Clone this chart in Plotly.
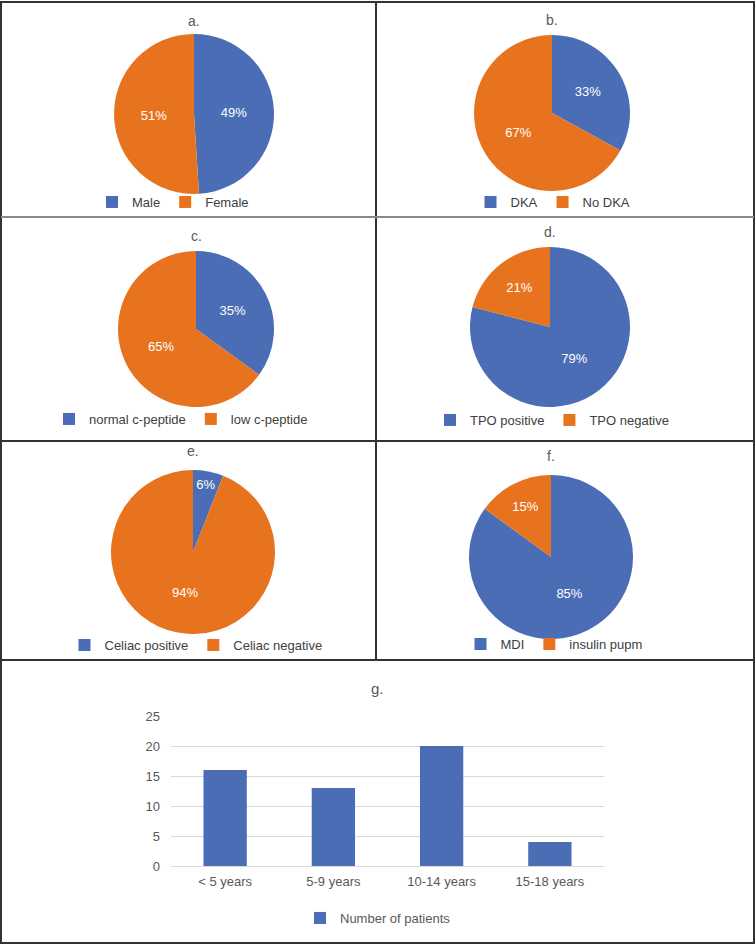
import plotly.graph_objects as go

W, H = 756, 947

# ---------------- data ----------------
a_labels = ["Male", "Female"]
a_values = [49, 51]
b_labels = ["DKA", "No DKA"]
b_values = [33, 67]
c_labels = ["normal c-peptide", "low c-peptide"]
c_values = [35, 65]
d_labels = ["TPO positive", "TPO negative"]
d_values = [79, 21]
e_labels = ["Celiac positive", "Celiac negative"]
e_values = [6, 94]
f_labels = ["MDI", "insulin pupm"]
f_values = [85, 15]

g_categories = ["< 5 years", "5-9 years", "10-14 years", "15-18 years"]
g_values = [16, 13, 20, 4]
g_series = "Number of patients"
g_ticks = [0, 5, 10, 15, 20, 25]

BLUE = "#4A6DB5"
ORANGE = "#E8731F"
FONT = "Liberation Sans, Arial, sans-serif"
NARROW = "Liberation Sans Narrow, Arial Narrow, Liberation Sans, sans-serif"


def px(x):
    return x / W


def py(y):
    return 1 - y / H


fig = go.Figure()

# panels: (labels, values, title, cx, cy, r, title_y, legend_x, legend_y)
panels = [
    (a_labels, a_values, "a.", 194, 114, 80, 21, 173, 202),
    (b_labels, b_values, "b.", 552, 113, 78, 20, 553, 202),
    (c_labels, c_values, "c.", 196, 329, 78, 236, 181, 419),
    (d_labels, d_values, "d.", 550, 327, 80, 232, 552, 420),
    (e_labels, e_values, "e.", 193, 552, 82, 451, 196, 645),
    (f_labels, f_values, "f.", 551, 557, 82, 456, 554, 644),
]

annotations = []
legends = {}
for i, (labs, vals, title, cx, cy, r, ty, lx, ly) in enumerate(panels):
    lname = "legend" if i == 0 else f"legend{i + 1}"
    fig.add_trace(go.Pie(
        labels=labs, values=vals, sort=False, direction="clockwise", rotation=0,
        marker=dict(colors=[BLUE, ORANGE], line=dict(width=0)),
        texttemplate="%{value}%", textposition="inside",
        insidetextorientation="horizontal",
        textfont=dict(color="white", size=13, family=FONT),
        domain=dict(x=[px(cx - r), px(cx + r)], y=[py(cy + r), py(cy - r)]),
        legend=lname, hoverinfo="label+percent",
    ))
    legends[lname] = dict(
        orientation="h", x=px(lx), y=py(ly), xanchor="center", yanchor="middle",
        font=dict(size=13, color="#404040", family=FONT), bgcolor="rgba(0,0,0,0)",
        itemwidth=30, traceorder="normal",
    )
    annotations.append(dict(
        text=title, x=px(cx), y=py(ty), xref="paper", yref="paper",
        showarrow=False, font=dict(size=14, color="#595959", family=FONT),
        xanchor="center", yanchor="middle",
    ))

# bar chart g
fig.add_trace(go.Bar(
    x=g_categories, y=g_values, name=g_series, marker=dict(color=BLUE, line=dict(width=0)),
    xaxis="x", yaxis="y", legend="legend7", showlegend=True,
))
legends["legend7"] = dict(
    orientation="h", x=px(378), y=py(918), xanchor="center", yanchor="middle",
    font=dict(size=13, color="#595959", family=NARROW), bgcolor="rgba(0,0,0,0)",
    itemwidth=30,
)
annotations.append(dict(
    text="g.", x=px(377), y=py(688), xref="paper", yref="paper", showarrow=False,
    font=dict(size=15, color="#595959", family=NARROW), xanchor="center", yanchor="middle",
))

# frame lines
LINE = dict(color="#333333", width=2)
shapes = [
    dict(type="rect", xref="paper", yref="paper", x0=px(1), x1=px(754), y0=py(943), y1=py(2),
         line=LINE),
    dict(type="line", xref="paper", yref="paper", x0=px(376), x1=px(376), y0=py(660), y1=py(2),
         line=LINE),
    dict(type="line", xref="paper", yref="paper", x0=px(1), x1=px(754), y0=py(217), y1=py(217),
         line=dict(color="#8a8a8a", width=2)),
    dict(type="line", xref="paper", yref="paper", x0=px(1), x1=px(754), y0=py(441), y1=py(441),
         line=LINE),
    dict(type="line", xref="paper", yref="paper", x0=px(1), x1=px(754), y0=py(660), y1=py(660),
         line=LINE),
]

fig.update_layout(
    width=W, height=H, margin=dict(l=0, r=0, t=0, b=0, autoexpand=False),
    paper_bgcolor="white", plot_bgcolor="white",
    bargap=0.6,
    xaxis=dict(domain=[px(171), px(604)], anchor="y", showgrid=False, showline=False,
               ticks="", tickfont=dict(size=13, color="#595959", family=NARROW),
               ticklabelstandoff=6, fixedrange=True),
    yaxis=dict(domain=[py(866), py(716)], anchor="x", range=[0, 25], tickvals=g_ticks,
               showgrid=True, gridcolor="#D9D9D9", gridwidth=1, zeroline=True,
               zerolinecolor="#D9D9D9", zerolinewidth=1, showline=False, ticks="",
               tickfont=dict(size=13, color="#595959", family=NARROW), ticklabelstandoff=10,
               fixedrange=True),
    annotations=annotations,
    shapes=shapes,
    **legends,
)

fig.write_html(
    "out.html",
    config={"displayModeBar": False},
    post_script="document.body.style.margin='0';document.body.style.padding='0';"
                "document.body.style.overflow='hidden';",
)
